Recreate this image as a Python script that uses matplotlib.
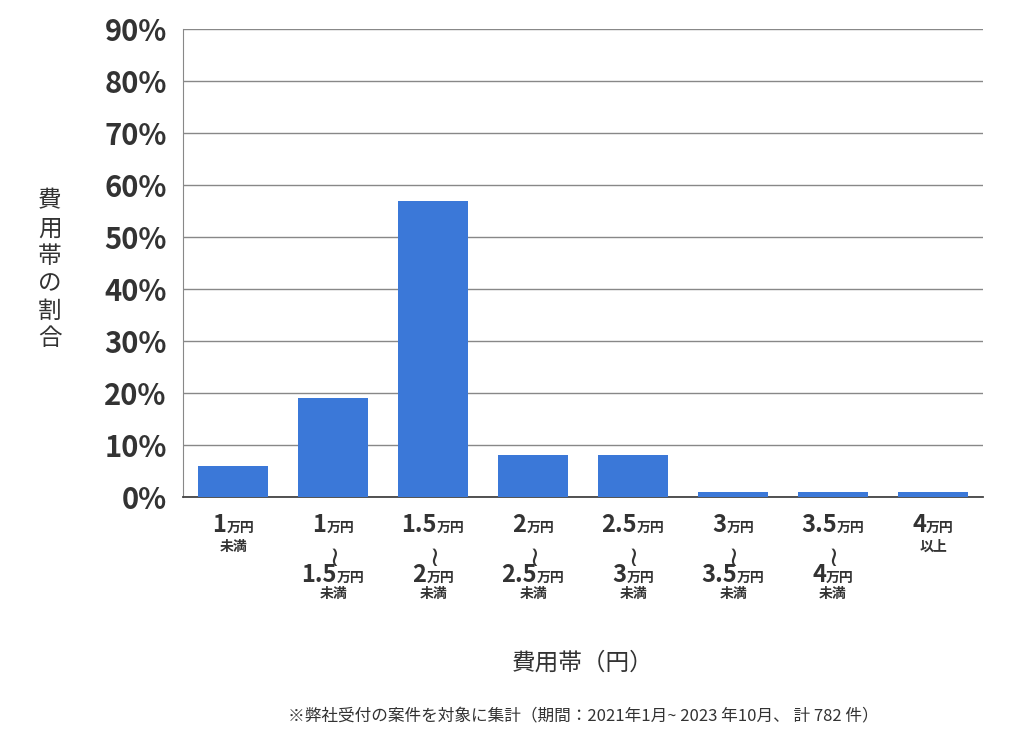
import matplotlib
matplotlib.use("Agg")
import matplotlib.pyplot as plt
import matplotlib.transforms as mtransforms

plt.rcParams["font.family"] = ["Noto Sans CJK JP", "DejaVu Sans"]

# data
top_lines = ["1", "1", "1.5", "2", "2.5", "3", "3.5", "4"]
bottom_lines = [None, "1.5", "2", "2.5", "3", "3.5", "4", None]
suffix = ["未満", "未満", "未満", "未満", "未満", "未満", "未満", "以上"]
values = [6, 19, 57, 8, 8, 1, 1, 1]
yticks = list(range(0, 91, 10))

fig = plt.figure(figsize=(10.24, 7.46), dpi=100)
ax = fig.add_axes([0.179, 0.334, 0.781, 0.627])
x = range(len(values))
ax.bar(x, values, width=0.7, color="#3b78d8", zorder=3)
ax.set_xlim(-0.5, 7.5)
ax.set_ylim(0, 90)
ax.set_yticks(yticks)
ax.set_yticklabels([f"{v}%" for v in yticks], fontsize=21, fontweight="bold", color="#333333")
ax.grid(axis="y", color="#888888", linewidth=1, zorder=0)
for s in ["top", "right"]:
    ax.spines[s].set_visible(False)
ax.spines["left"].set_color("#888888")
ax.spines["bottom"].set_color("#444444")
ax.spines["bottom"].set_linewidth(1.3)
ax.tick_params(axis="y", length=0, pad=12)
ax.set_xticks([])

tr = mtransforms.blended_transform_factory(ax.transData, fig.transFigure)
renderer = fig.canvas.get_renderer()

def money(xi, y, num):
    a = ax.text(xi, y, num, transform=tr, ha="right", va="baseline",
                fontsize=17, fontweight="bold", color="#333333")
    b = ax.text(xi, y, "万円", transform=tr, ha="left", va="baseline",
                fontsize=10, fontweight="bold", color="#333333")
    wa = a.get_window_extent(renderer).width
    wb = b.get_window_extent(renderer).width
    dx = (wa - wb) / 2 / 100  # inches
    off = mtransforms.ScaledTranslation(dx, 0, fig.dpi_scale_trans)
    a.set_transform(tr + off)
    b.set_transform(tr + off)

for i in x:
    money(i, 1 - 532 / 746, top_lines[i])
    if bottom_lines[i] is None:
        ax.text(i, 1 - 547 / 746, suffix[i], transform=tr, ha="center", va="center",
                fontsize=10, fontweight="bold", color="#333333")
    else:
        ax.text(i, 1 - 553 / 746, "~", transform=tr, ha="center", va="center",
                fontsize=20, rotation=90, color="#333333", family="DejaVu Sans")
        money(i, 1 - 582 / 746, bottom_lines[i])
        ax.text(i, 1 - 594 / 746, suffix[i], transform=tr, ha="center", va="center",
                fontsize=10, fontweight="bold", color="#333333")

fig.text(50 / 1024, 1 - 270 / 746, "費\n用\n帯\nの\n割\n合", ha="center", va="center",
         fontsize=17, color="#333333", linespacing=1.25)
fig.text(583 / 1024, 1 - 663 / 746, "費用帯（円）", ha="center", va="center",
         fontsize=17, color="#333333")
fig.text(583 / 1024, 1 - 716 / 746,
         "※弊社受付の案件を対象に集計（期間：2021年1月~ 2023 年10月、 計 782 件）",
         ha="center", va="center", fontsize=12, color="#333333")

fig.savefig("out.png", dpi=100, facecolor="white")
